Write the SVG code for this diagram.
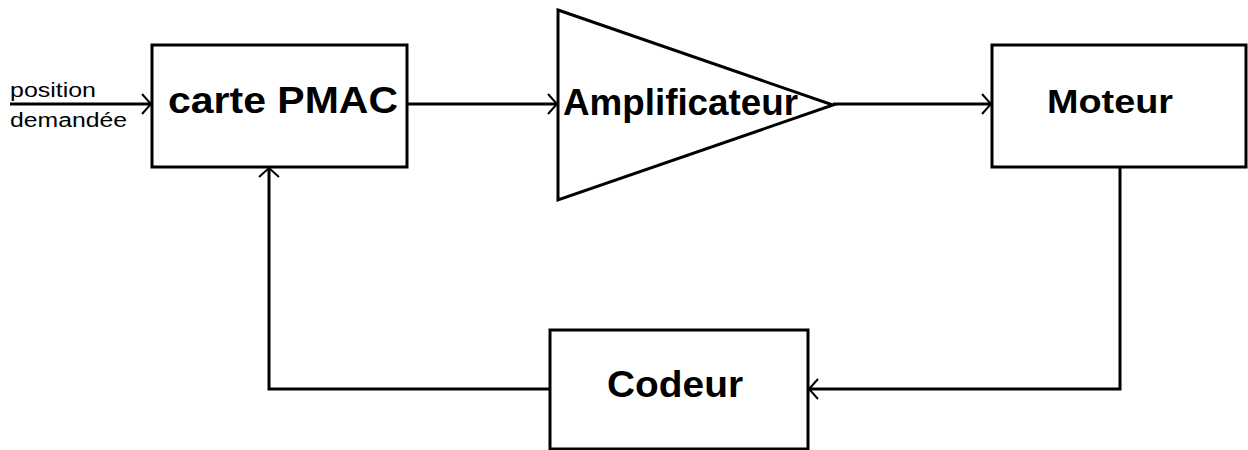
<svg xmlns="http://www.w3.org/2000/svg" width="1248" height="450" viewBox="0 0 1248 450">
  <style>
    .box { fill: #fff; stroke: #000; stroke-width: 3; }
    .wire { fill: none; stroke: #000; stroke-width: 3; }
    .label { font-family: "Liberation Sans", Arial, sans-serif; font-weight: bold; fill: #000; }
    .small { font-family: "Liberation Sans", Arial, sans-serif; font-size: 20px; fill: #000; }
  </style>
  <defs>
    <marker id="chevron" markerUnits="userSpaceOnUse" markerWidth="14" markerHeight="24" refX="10" refY="11" orient="auto" viewBox="0 0 14 22">
      <path d="M1,1 L10,11 L1,21" fill="none" stroke="#000" stroke-width="2"/>
    </marker>
  </defs>
  <rect width="1248" height="450" fill="#fff"/>

  <g id="connectors">
    <line class="wire" x1="10" y1="104" x2="151" y2="104" marker-end="url(#chevron)"/>
    <line class="wire" x1="407" y1="104" x2="557" y2="104" marker-end="url(#chevron)"/>
    <line class="wire" x1="833" y1="104" x2="991" y2="104" marker-end="url(#chevron)"/>
    <polyline class="wire" points="1120,167 1120,389 809,389" marker-end="url(#chevron)"/>
    <polyline class="wire" points="550,389 269,389 269,168" marker-end="url(#chevron)"/>
  </g>

  <g id="input-label">
    <text class="small" x="10" y="97" textLength="86" lengthAdjust="spacingAndGlyphs">position</text>
    <text class="small" x="10" y="127" textLength="117" lengthAdjust="spacingAndGlyphs">demandée</text>
  </g>

  <g id="pmac">
    <rect class="box" x="152" y="45" width="255" height="122"/>
    <text class="label" x="168" y="113" font-size="36" textLength="230" lengthAdjust="spacingAndGlyphs">carte PMAC</text>
  </g>

  <g id="amplificateur">
    <polygon class="box" points="558,10 833,105 558,200"/>
    <text class="label" x="563" y="115" font-size="37" textLength="235" lengthAdjust="spacingAndGlyphs">Amplificateur</text>
  </g>

  <g id="moteur">
    <rect class="box" x="992" y="45" width="254" height="122"/>
    <text class="label" x="1047" y="113" font-size="33" textLength="126" lengthAdjust="spacingAndGlyphs">Moteur</text>
  </g>

  <g id="codeur">
    <rect class="box" x="550" y="330" width="258" height="119"/>
    <text class="label" x="607" y="397" font-size="37" textLength="136" lengthAdjust="spacingAndGlyphs">Codeur</text>
  </g>
</svg>
